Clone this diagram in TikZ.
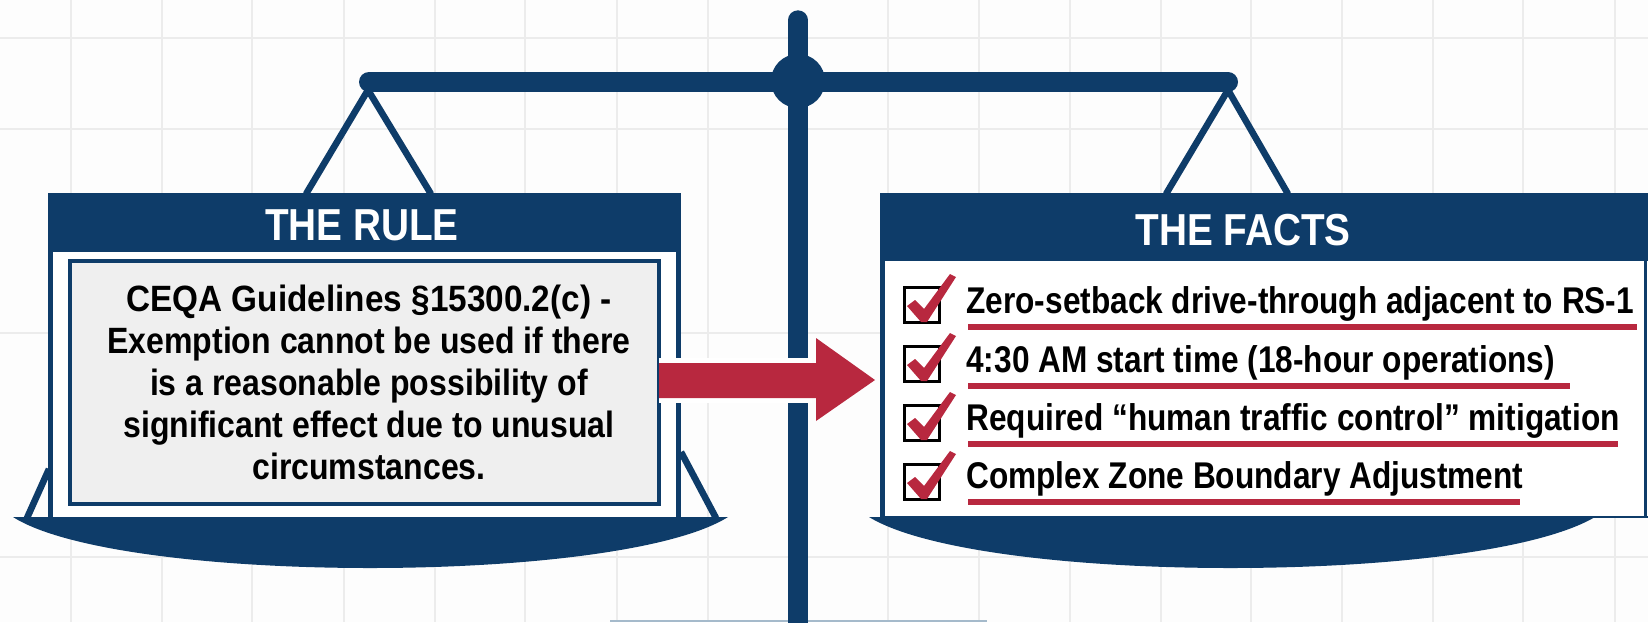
\documentclass[tikz,border=0pt]{standalone}
\usepackage{fontspec}
\setmainfont[FakeStretch=0.875,BoldFont={Liberation Sans Bold}]{Liberation Sans}
\newfontfamily\headfont[FakeStretch=0.865]{Liberation Sans Bold}
\newfontfamily\factfont[FakeStretch=0.85]{Liberation Sans Bold}
\newfontfamily\wideline[FakeStretch=0.91]{Liberation Sans Bold}
\definecolor{navy}{HTML}{0E3C69}
\definecolor{crim}{HTML}{B8283F}
\definecolor{gridc}{HTML}{ECECEC}
\definecolor{paper}{HTML}{FDFDFD}
\definecolor{inner}{HTML}{EFEFEF}
\definecolor{edgeblue}{HTML}{A5BACB}
\tikzset{
  gridline/.style={draw=gridc,line width=0.6pt},
  navyline/.style={draw=navy,line width=3.3pt},
  headtext/.style={text=white,font=\headfont\fontsize{22.4}{25}\selectfont,inner sep=0pt},
  ruletext/.style={text=black,font=\bfseries\fontsize{18.3}{21}\selectfont,align=center,inner sep=0pt},
  facttext/.style={text=black,font=\factfont\fontsize{18.6}{20}\selectfont,anchor=base west,inner sep=0pt},
  underl/.style={draw=crim,line width=3.4pt},
  cbox/.style={draw=black,line width=1.9pt,fill=white,minimum width=17.5pt,minimum height=17.5pt,inner sep=0pt}
}
\newcommand{\tick}[1]{\fill[crim,shift={(0,#1)}] (907,306) -- (915,300) -- (924,309) -- (950,274) -- (956,277) -- (927,322) -- (921,322) -- cycle;}
\begin{document}
\begin{tikzpicture}[x=0.5pt,y=-0.5pt]
\useasboundingbox (0,0) rectangle (1648,622);
\fill[paper] (0,0) rectangle (1648,622);
\foreach \gx in {71,162,252,344,435,525,617,708,888,979,1070,1161,1251,1342,1433,1523,1615}
  \draw[gridline] (\gx,0) -- (\gx,622);
\foreach \gy in {38,129,333,557}
  \draw[gridline] (0,\gy) -- (1648,\gy);
\coordinate (ea) at (610,621); \coordinate (eb) at (987,621);
\draw[draw=edgeblue,line width=1pt] (ea) -- (eb);
% post, beam, hub
\draw[draw=navy,line width=9.7pt,line cap=round] (798,20) -- (798,640);
\draw[draw=navy,line width=10pt,line cap=round] (369,82) -- (1228,82);
\node[circle,fill=navy,minimum size=27pt,inner sep=0pt] (hub) at (798,81) {};
% hanging lines
\coordinate (la) at (368,90); \coordinate (lb) at (306,194); \coordinate (lc) at (431,194);
\coordinate (ra) at (1228,90); \coordinate (rb) at (1166,194); \coordinate (rc) at (1288,194);
\draw[navyline] (lb) -- (la) -- (lc);
\draw[navyline] (rb) -- (ra) -- (rc);
% pans
\fill[navy] (13,517) .. controls (120,585) and (620,585) .. (728,517) -- cycle;
\fill[navy] (869,517) .. controls (980,585) and (1480,585) .. (1595,517) -- cycle;
\draw[navyline] (27,518) -- (49,469);
\draw[navyline] (716,518) -- (681,452);
% left panel
\fill[white] (48,252) rectangle (681,517);
\draw[draw=navy,line width=2.2pt] (50.5,252) -- (50.5,517);
\draw[draw=navy,line width=2.2pt] (678.5,252) -- (678.5,517);
\fill[navy] (48,193) rectangle (681,252);
\node[headtext] (rulehead) at (362,225) {THE RULE};
\node[rectangle,draw=navy,line width=2pt,fill=inner,minimum width=294.5pt,minimum height=121.5pt,inner sep=0pt] (rulebox) at (364.5,382.5) {};
\node[ruletext] (ruletxt) at (369,382) {{\wideline CEQA Guidelines §15300.2(c) -}\\Exemption cannot be used if there\\is a reasonable possibility of\\significant effect due to unusual\\circumstances.};
% right panel
\fill[white] (880,252) rectangle (1648,517);
\draw[draw=navy,line width=2.4pt] (882.5,252) -- (882.5,517);
\draw[draw=navy,line width=1.4pt] (1645.5,252) -- (1645.5,517);
\draw[draw=navy,line width=1pt] (880,517) -- (1648,517);
\fill[navy] (880,193) rectangle (1648,261);
\node[headtext] (facthead) at (1243,230) {THE FACTS};
% checklist
\foreach \yy/\bl/\tx/\ul in {0/313/{Zero-setback drive-through adjacent to RS-1}/1637,59/372/{4:30 AM start time (18-hour operations)}/1570,118/430/{Required “human traffic control” mitigation}/1618,177/488/{Complex Zone Boundary Adjustment}/1520}{
  \node[cbox] at (922,305+\yy) {};
  \tick{\yy}
  \node[facttext] at (966,\bl) {\tx};
  \draw[underl] (968,\bl+14) -- (\ul,\bl+14);
}
% arrow
\fill[white] (659,358) rectangle (812,403);
\fill[crim] (659,363) -- (816,363) -- (816,338) -- (875,380) -- (816,421) -- (816,398) -- (659,398) -- cycle;
\end{tikzpicture}
\end{document}
